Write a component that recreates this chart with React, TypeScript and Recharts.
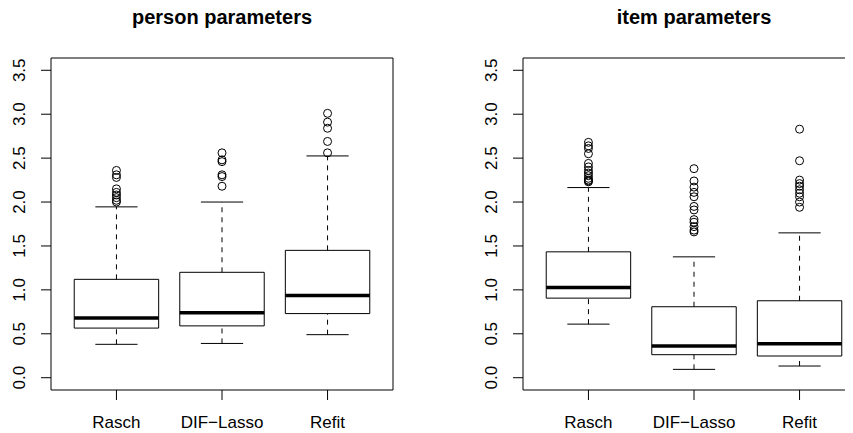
import React from 'react';
import {
  ComposedChart,
  XAxis,
  YAxis,
  Scatter,
  ReferenceArea,
  ReferenceLine,
} from 'recharts';

// ---- data ----
const categories = ['Rasch', 'DIF\u2212Lasso', 'Refit'];
const yTicks = [0, 0.5, 1, 1.5, 2, 2.5, 3, 3.5];

const personLower = [0.38, 0.39, 0.49];
const personQ1 = [0.565, 0.59, 0.73];
const personMedian = [0.68, 0.74, 0.935];
const personQ3 = [1.12, 1.2, 1.45];
const personUpper = [1.945, 2.0, 2.525];
const personOutliers = [
  [2.36, 2.31, 2.28, 2.15, 2.11, 2.08, 2.05, 2.02, 2.0],
  [2.56, 2.48, 2.46, 2.31, 2.29, 2.18],
  [3.01, 2.91, 2.84, 2.69, 2.56],
];

const itemLower = [0.61, 0.095, 0.133];
const itemQ1 = [0.906, 0.262, 0.247];
const itemMedian = [1.028, 0.361, 0.387];
const itemQ3 = [1.433, 0.808, 0.876];
const itemUpper = [2.165, 1.376, 1.649];
const itemOutliers = [
  [2.68, 2.64, 2.61, 2.55, 2.44, 2.4, 2.36, 2.33, 2.3, 2.27, 2.25, 2.24, 2.23],
  [2.38, 2.24, 2.17, 2.11, 2.06, 1.95, 1.91, 1.8, 1.77, 1.72, 1.68, 1.66],
  [2.83, 2.47, 2.25, 2.21, 2.18, 2.14, 2.1, 2.06, 2.0, 1.94],
];

// ---- layout ----
const X_DOMAIN: [number, number] = [0.38, 3.62];
const Y_DOMAIN: [number, number] = [-0.14, 3.64];
const FONT = '"Liberation Sans", Arial, Helvetica, sans-serif';
const BOX_HALF = 0.4;
const CAP_HALF = 0.2;

const YTick = (props: any) => {
  const { x, y, payload } = props;
  return (
    <text
      x={x}
      y={y}
      transform={`rotate(-90 ${x} ${y})`}
      textAnchor="middle"
      fontSize={17}
      fontFamily={FONT}
      fill="#000"
    >
      {Number(payload.value).toFixed(1)}
    </text>
  );
};

const XTick = (props: any) => {
  const { x, y, payload } = props;
  return (
    <text x={x} y={y + 28} textAnchor="middle" fontSize={17} fontFamily={FONT} fill="#000">
      {categories[Math.round(payload.value) - 1]}
    </text>
  );
};

const Circle = (p: any) => (
  <circle cx={p.cx} cy={p.cy} r={4} fill="none" stroke="#000" strokeWidth={1} />
);

type PanelProps = {
  lower: number[];
  q1: number[];
  median: number[];
  q3: number[];
  upper: number[];
  outliers: number[][];
};

function Panel({ lower, q1, median, q3, upper, outliers }: PanelProps) {
  const pts = outliers.flatMap((arr, i) => arr.map((v) => ({ x: i + 1, y: v })));
  return (
    <ComposedChart width={426} height={433} margin={{ top: 58, right: 33, bottom: 0, left: 0 }}>
      <XAxis
        type="number"
        dataKey="x"
        domain={X_DOMAIN}
        allowDataOverflow
        ticks={[1, 2, 3]}
        interval={0}
        tickSize={10}
        tickMargin={0}
        axisLine={false}
        tickLine={{ stroke: '#000' }}
        height={43}
        tick={<XTick />}
      />
      <YAxis
        type="number"
        dataKey="y"
        domain={Y_DOMAIN}
        allowDataOverflow
        ticks={yTicks}
        interval={0}
        tickSize={10}
        tickMargin={16}
        axisLine={false}
        tickLine={{ stroke: '#000' }}
        width={51}
        tick={<YTick />}
      />
      <ReferenceArea
        x1={X_DOMAIN[0]}
        x2={X_DOMAIN[1]}
        y1={Y_DOMAIN[0]}
        y2={Y_DOMAIN[1]}
        fill="none"
        stroke="#000"
        strokeWidth={1}
        ifOverflow="visible"
      />
      {categories.map((_, i) => {
        const c = i + 1;
        return (
          <React.Fragment key={i}>
            <ReferenceLine
              segment={[{ x: c, y: q3[i] }, { x: c, y: upper[i] }]}
              stroke="#000"
              strokeDasharray="5 5"
              ifOverflow="visible"
            />
            <ReferenceLine
              segment={[{ x: c, y: lower[i] }, { x: c, y: q1[i] }]}
              stroke="#000"
              strokeDasharray="5 5"
              ifOverflow="visible"
            />
            <ReferenceLine
              segment={[{ x: c - CAP_HALF, y: upper[i] }, { x: c + CAP_HALF, y: upper[i] }]}
              stroke="#000"
              ifOverflow="visible"
            />
            <ReferenceLine
              segment={[{ x: c - CAP_HALF, y: lower[i] }, { x: c + CAP_HALF, y: lower[i] }]}
              stroke="#000"
              ifOverflow="visible"
            />
            <ReferenceArea
              x1={c - BOX_HALF}
              x2={c + BOX_HALF}
              y1={q1[i]}
              y2={q3[i]}
              fill="none"
              stroke="#000"
              strokeWidth={1}
              ifOverflow="visible"
            />
            <ReferenceLine
              segment={[{ x: c - BOX_HALF, y: median[i] }, { x: c + BOX_HALF, y: median[i] }]}
              stroke="#000"
              strokeWidth={3.5}
              ifOverflow="visible"
            />
          </React.Fragment>
        );
      })}
      <Scatter data={pts} dataKey="y" shape={<Circle />} isAnimationActive={false} />
    </ComposedChart>
  );
}

export default function App() {
  return (
    <div
      style={{
        position: 'relative',
        width: 853,
        height: 433,
        marginLeft: -8,
        marginTop: -8,
        overflow: 'hidden',
        background: '#fff',
      }}
    >
      <div style={{ position: 'absolute', left: 0, top: 0 }}>
        <Panel
          lower={personLower}
          q1={personQ1}
          median={personMedian}
          q3={personQ3}
          upper={personUpper}
          outliers={personOutliers}
        />
      </div>
      <div style={{ position: 'absolute', left: 472, top: 0 }}>
        <Panel
          lower={itemLower}
          q1={itemQ1}
          median={itemMedian}
          q3={itemQ3}
          upper={itemUpper}
          outliers={itemOutliers}
        />
      </div>
      <svg
        width={853}
        height={40}
        style={{ position: 'absolute', left: 0, top: 0, pointerEvents: 'none' }}
      >
        <text x={222} y={24} textAnchor="middle" fontSize={20} fontWeight="bold" fontFamily={FONT} fill="#000">
          person parameters
        </text>
        <text x={694} y={24} textAnchor="middle" fontSize={20} fontWeight="bold" fontFamily={FONT} fill="#000">
          item parameters
        </text>
      </svg>
    </div>
  );
}
